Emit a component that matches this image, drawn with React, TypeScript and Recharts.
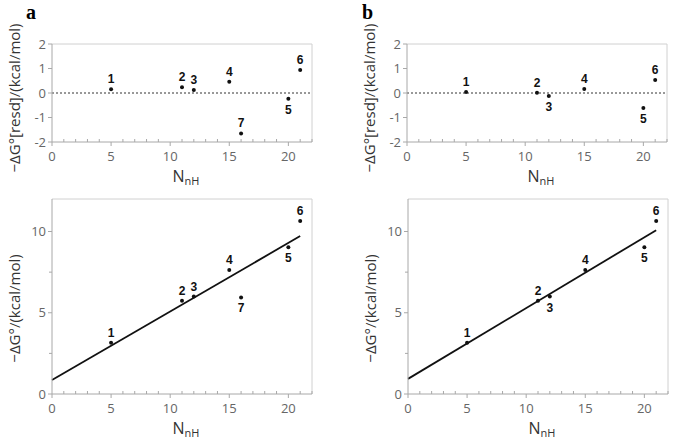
import { ScatterChart, Scatter, XAxis, YAxis, ReferenceLine } from "recharts";

// values
const idsA = ["1", "2", "3", "4", "5", "6", "7"];
const nnhA = [5, 11, 12, 15, 20, 21, 16];
const resdA = [0.15, 0.23, 0.12, 0.46, -0.23, 0.94, -1.65];
const dgA = [3.15, 5.74, 6.0, 7.63, 9.03, 10.64, 5.94];

const idsB = ["1", "2", "3", "4", "5", "6"];
const nnhB = [5, 11, 12, 15, 20, 21];
const resdB = [0.04, 0.01, -0.12, 0.16, -0.61, 0.53];
const dgB = [3.15, 5.74, 6.0, 7.63, 9.03, 10.64];

// fitted lines: endpoints at N = 0 and N = 21
const fitX = [0, 21];
const fitA = [0.86, 9.72];
const fitB = [0.93, 10.08];

const xTicks = [0, 1, 2, 3, 4, 5, 6, 7, 8, 9, 10, 11, 12, 13, 14, 15, 16, 17, 18, 19, 20, 21, 22];
const xLabeled = [0, 5, 10, 15, 20];
const resdTicks = [-2, -1, 0, 1, 2];
const dgTicks = [0, 2.5, 5, 7.5, 10];
const dgLabeled = [0, 5, 10];

const FONT = "'Open Sans', sans-serif";
const AXIS = "#a8a8a8";
const FRAME = "#d0d0d0";
const TICKTXT = "#666";
const TITLE = "#333";

const toPoints = (ids: string[], xs: number[], ys: number[]) =>
  ids.map((id, i) => ({ id, x: xs[i], y: ys[i] }));

function XTick(props: any) {
  const { x, y, payload } = props;
  const major = xLabeled.includes(payload.value);
  return (
    <g>
      <line x1={x} x2={x} y1={major ? y : y - 3} y2={major ? y + 4 : y} stroke={AXIS} />
      {major && (
        <text x={x} y={y + 19} textAnchor="middle" fontSize={13} fill={TICKTXT} fontFamily={FONT}>
          {payload.value}
        </text>
      )}
    </g>
  );
}

function makeYTick(labeled: number[] | null) {
  return (props: any) => {
    const { x, y, payload } = props;
    const major = labeled === null || labeled.includes(payload.value);
    return (
      <g>
        <line x1={major ? x - 4 : x - 3} x2={x} y1={y} y2={y} stroke={AXIS} />
        {major && (
          <text x={x - 6} y={y + 4.5} textAnchor="end" fontSize={13} fill={TICKTXT} fontFamily={FONT}>
            {payload.value}
          </text>
        )}
      </g>
    );
  };
}

function XTitle(props: any) {
  const { x, y, width } = props.viewBox;
  return (
    <text x={x + width / 2 + 4} y={y + 40} textAnchor="middle" fontSize={16} fill={TITLE} fontFamily={FONT}>
      N
      <tspan fontSize={11} dy={2.5}>
        nH
      </tspan>
    </text>
  );
}

function YTitle(props: any) {
  const { y, height } = props.viewBox;
  const cx = 14;
  const cy = y + height / 2 + (props.dy || 0);
  return (
    <text
      x={cx}
      y={cy}
      transform={`rotate(-90 ${cx} ${cy})`}
      textAnchor="middle"
      dominantBaseline="central"
      fontSize={15}
      fill={TITLE}
      fontFamily={FONT}
    >
      {props.text}
    </text>
  );
}

function makeDot(below: string[]) {
  return (props: any) => {
    const { cx, cy, payload } = props;
    const under = below.includes(payload.id);
    return (
      <g>
        <circle cx={cx} cy={cy} r={2} fill="#111" />
        <text
          x={cx}
          y={under ? cy + 15 : cy - 6}
          textAnchor="middle"
          fontSize={12}
          fontWeight="bold"
          fill="#111"
          fontFamily="'Liberation Sans', Arial, sans-serif"
        >
          {payload.id}
        </text>
      </g>
    );
  };
}

function ResidPanel({ ids, xs, ys, below }: { ids: string[]; xs: number[]; ys: number[]; below: string[] }) {
  return (
    <ScatterChart width={340} height={200} margin={{ top: 44, right: 28, bottom: 0, left: 0 }}>
      <XAxis
        type="number"
        dataKey="x"
        domain={[0, 22]}
        ticks={xTicks}
        interval={0}
        tickSize={0}
        tickMargin={0}
        tickLine={false}
        tick={<XTick />}
        axisLine={{ stroke: AXIS }}
        height={58}
        label={<XTitle />}
      />
      <YAxis
        type="number"
        dataKey="y"
        domain={[-2, 2]}
        ticks={resdTicks}
        interval={0}
        tickSize={0}
        tickMargin={0}
        tickLine={false}
        tick={makeYTick(null)}
        axisLine={{ stroke: AXIS }}
        width={52}
        label={<YTitle text="−ΔG°[resd]/(kcal/mol)" dy={5} />}
      />
      <ReferenceLine y={2} stroke={FRAME} />
      <ReferenceLine x={22} stroke={FRAME} />
      <ReferenceLine y={0} stroke="#333" strokeDasharray="2 2" />
      <Scatter data={toPoints(ids, xs, ys)} shape={makeDot(below)} isAnimationActive={false} />
    </ScatterChart>
  );
}

function FitPanel({
  ids,
  xs,
  ys,
  fit,
  below,
}: {
  ids: string[];
  xs: number[];
  ys: number[];
  fit: number[];
  below: string[];
}) {
  return (
    <ScatterChart width={340} height={251} margin={{ top: 9, right: 28, bottom: 0, left: 0 }}>
      <XAxis
        type="number"
        dataKey="x"
        domain={[0, 22]}
        ticks={xTicks}
        interval={0}
        tickSize={0}
        tickMargin={0}
        tickLine={false}
        tick={<XTick />}
        axisLine={{ stroke: AXIS }}
        height={47}
        label={<XTitle />}
      />
      <YAxis
        type="number"
        dataKey="y"
        domain={[0, 12]}
        ticks={dgTicks}
        interval={0}
        tickSize={0}
        tickMargin={0}
        tickLine={false}
        tick={makeYTick(dgLabeled)}
        axisLine={{ stroke: AXIS }}
        width={52}
        label={<YTitle text="−ΔG°/(kcal/mol)" dy={12} />}
      />
      <ReferenceLine y={12} stroke={FRAME} />
      <ReferenceLine x={22} stroke={FRAME} />
      <ReferenceLine
        segment={[
          { x: fitX[0], y: fit[0] },
          { x: fitX[1], y: fit[1] },
        ]}
        stroke="#111"
        strokeWidth={1.8}
      />
      <Scatter data={toPoints(ids, xs, ys)} shape={makeDot(below)} isAnimationActive={false} />
    </ScatterChart>
  );
}

export default function App() {
  const letterFont = "'Liberation Serif', 'Times New Roman', serif";
  return (
    <div style={{ position: "relative", width: 685, height: 441, background: "#fff", overflow: "hidden" }}>
      <style>{`body{margin:0}`}</style>
      <svg width={685} height={26} style={{ position: "absolute", left: 0, top: 0 }}>
        <text x={26} y={19} fontFamily={letterFont} fontWeight="bold" fontSize={20} fill="#000">
          a
        </text>
        <text x={362} y={19} fontFamily={letterFont} fontWeight="bold" fontSize={20} fill="#000">
          b
        </text>
      </svg>
      <div style={{ position: "absolute", left: 0, top: 0 }}>
        <ResidPanel ids={idsA} xs={nnhA} ys={resdA} below={["5"]} />
      </div>
      <div style={{ position: "absolute", left: 0, top: 190 }}>
        <FitPanel ids={idsA} xs={nnhA} ys={dgA} fit={fitA} below={["5", "7"]} />
      </div>
      <div style={{ position: "absolute", left: 355, top: 0 }}>
        <ResidPanel ids={idsB} xs={nnhB} ys={resdB} below={["3", "5"]} />
      </div>
      <div style={{ position: "absolute", left: 356, top: 190 }}>
        <FitPanel ids={idsB} xs={nnhB} ys={dgB} fit={fitB} below={["3", "5"]} />
      </div>
    </div>
  );
}
